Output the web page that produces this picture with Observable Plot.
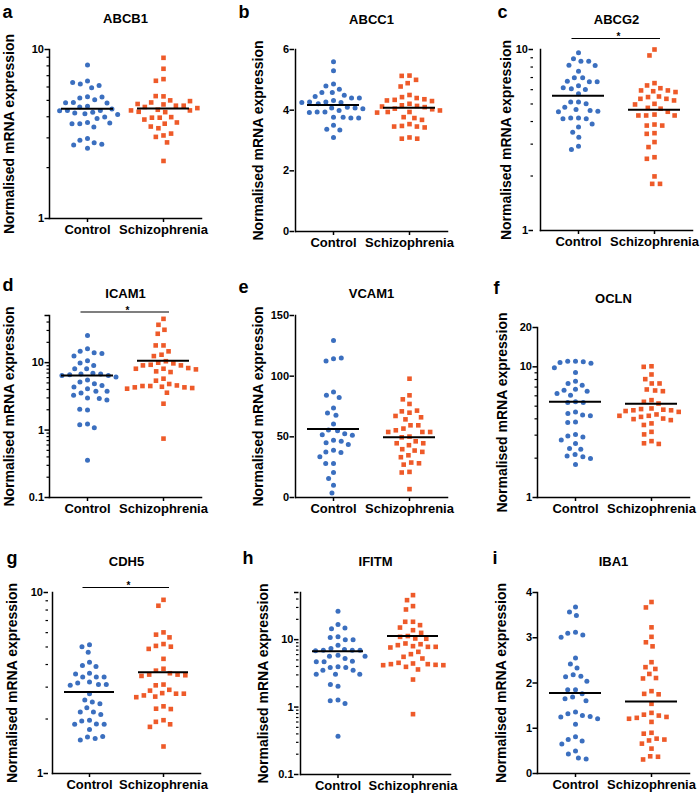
<!DOCTYPE html>
<html>
<head>
<meta charset="utf-8">
<script src="https://cdn.jsdelivr.net/npm/d3@7"></script>
<script src="https://cdn.jsdelivr.net/npm/@observablehq/plot@0.6"></script>
<style>
  html, body { margin: 0; padding: 0; background: #fff; }
  #root { position: relative; width: 700px; height: 794px; overflow: hidden; font-family: "Liberation Sans", Arial, sans-serif; }
  #root svg { position: absolute; }
</style>
</head>
<body>
<div id="root"></div>
<script>
// ---------- data ----------
const groups = ["Control", "Schizophrenia"];

const abcb1Control = [8.1, 6.5, 6.24, 5.94, 6.13, 6.38, 5.25, 5.16, 5.04, 5.23, 4.86, 4.82, 4.61, 4.57, 4.84, 4.26, 4.21, 4.36, 4.44, 4.36, 4.17, 4.34, 3.9, 3.98, 4.13, 3.7, 3.64, 3.48, 3.64, 3.67, 2.97, 2.9, 2.81, 2.75, 2.6, 2.72];
const abcb1Schizo = [8.93, 7.69, 6.68, 6.53, 5.28, 5.3, 5.0, 4.86, 4.73, 4.65, 4.57, 4.65, 4.76, 4.95, 4.4, 4.26, 4.28, 4.36, 3.95, 3.98, 4.36, 3.95, 3.7, 3.64, 3.42, 3.1, 3.18, 3.04, 2.82, 2.19, 4.5, 3.85, 3.5];
const abcb1Means = [4.46, 4.48];

const abcc1Control = [5.6, 5.3, 4.86, 4.8, 4.69, 4.58, 4.58, 4.49, 4.45, 4.4, 4.4, 4.32, 4.27, 4.27, 4.25, 4.25, 4.21, 4.1, 4.07, 4.07, 4.05, 3.99, 3.94, 3.94, 3.92, 3.77, 3.77, 3.74, 3.74, 3.5, 3.37, 3.35, 3.1];
const abcc1Schizo = [5.14, 5.13, 5.0, 4.89, 4.78, 4.5, 4.43, 4.4, 4.36, 4.34, 4.32, 4.3, 4.21, 4.16, 4.14, 4.12, 4.1, 4.05, 4.03, 3.99, 3.94, 3.94, 3.92, 3.77, 3.74, 3.68, 3.54, 3.48, 3.46, 3.46, 3.43, 3.1, 3.06, 3.06];
const abcc1Means = [4.17, 4.08];

const abcg2Control = [9.58, 8.88, 8.62, 8.62, 8.19, 8.15, 7.59, 6.98, 6.98, 6.68, 6.63, 6.63, 6.3, 6.14, 6.06, 6.01, 5.69, 5.12, 5.12, 5.01, 4.8, 4.66, 4.6, 4.56, 4.53, 4.19, 4.19, 4.14, 4.14, 3.88, 3.73, 3.49, 3.28, 2.92, 2.8];
const abcg2Schizo = [10.0, 9.27, 6.52, 6.33, 6.11, 5.94, 5.94, 5.88, 5.82, 5.5, 5.46, 5.34, 5.34, 5.23, 5.01, 4.97, 4.76, 4.71, 4.53, 4.37, 4.32, 4.32, 4.32, 3.85, 3.8, 3.8, 3.45, 3.42, 3.08, 2.89, 2.54, 2.49, 1.99, 1.81, 1.81];
const abcg2Means = [5.55, 4.64];

const icam1Control = [25.3, 16.1, 14.7, 14.0, 13.7, 12.5, 10.7, 9.85, 9.1, 8.12, 8.12, 6.93, 6.77, 6.77, 6.62, 6.47, 6.47, 6.11, 5.52, 5.16, 4.87, 4.59, 4.35, 4.11, 3.75, 3.75, 3.54, 3.27, 2.99, 2.95, 2.79, 1.99, 2.04, 1.23, 1.2, 1.08, 0.357];
const icam1Schizo = [44.6, 36.4, 30.7, 26.8, 18.0, 18.0, 14.7, 13.1, 12.5, 10.5, 9.97, 9.75, 9.3, 9.1, 9.1, 8.31, 8.12, 8.12, 7.94, 7.42, 7.25, 5.78, 5.4, 4.82, 4.59, 4.5, 4.5, 4.39, 4.3, 4.3, 4.2, 4.11, 3.58, 2.46, 0.747];
const icam1Means = [6.47, 10.7];

const vcam1Control = [129.4, 114.3, 112.4, 114.9, 86.9, 84.2, 82.5, 73.8, 69.7, 67.7, 60.6, 55.7, 55.1, 52.6, 51.8, 51.3, 47.2, 46.3, 45.2, 43.6, 38.9, 37.6, 37.0, 33.5, 28.0, 28.0, 20.6, 15.6, 10.1, 3.8];
const vcam1Schizo = [97.9, 84.2, 80.9, 77.1, 69.9, 71.0, 71.6, 66.1, 67.2, 64.4, 59.5, 59.5, 56.8, 55.4, 54.0, 54.0, 54.0, 50.2, 49.6, 46.3, 44.7, 44.7, 43.1, 38.7, 39.8, 37.6, 34.8, 33.2, 28.8, 28.2, 27.1, 21.1, 20.6, 6.9];
const vcam1Means = [56.5, 49.6];

const oclnControl = [11.05, 11.05, 10.92, 10.8, 10.67, 9.82, 9.05, 7.77, 7.46, 7.24, 6.75, 6.63, 6.51, 6.25, 6.07, 5.4, 5.33, 5.33, 4.52, 4.39, 4.27, 4.22, 3.79, 3.75, 3.04, 2.96, 2.91, 2.75, 2.59, 2.37, 2.34, 2.13, 2.08, 2.05, 1.99, 1.79];
const oclnSchizo = [10.1, 10.0, 8.74, 8.05, 7.46, 7.46, 6.71, 6.59, 6.51, 5.56, 5.4, 5.24, 4.8, 4.75, 4.7, 4.65, 4.65, 4.59, 4.52, 4.32, 4.22, 4.22, 4.14, 4.02, 3.98, 3.91, 3.69, 3.59, 3.18, 3.04, 2.7, 2.6, 2.57];
const oclnMeans = [5.4, 5.21];

const cdh5Control = [5.15, 5.02, 4.67, 4.12, 3.95, 3.9, 3.58, 3.41, 3.41, 3.41, 3.55, 3.2, 3.16, 3.1, 3.1, 3.07, 2.76, 2.55, 2.48, 2.43, 2.31, 2.19, 2.19, 2.12, 1.97, 1.95, 1.88, 1.87, 1.87, 1.75, 1.59, 1.56, 1.53, 1.6];
const cdh5Schizo = [9.11, 8.45, 6.02, 5.85, 5.65, 5.19, 5.07, 5.02, 4.88, 4.3, 3.79, 3.7, 3.58, 3.52, 3.52, 3.49, 3.46, 3.1, 3.07, 2.9, 2.87, 2.78, 2.76, 2.76, 2.7, 2.66, 2.64, 2.35, 2.28, 2.27, 1.97, 1.93, 1.87, 1.81, 1.41];
const cdh5Means = [2.82, 3.63];

const ifitmControl = [26.4, 16.8, 14.5, 14.9, 11.0, 10.8, 10.0, 10.0, 8.28, 7.39, 7.14, 6.98, 6.98, 6.98, 6.82, 5.88, 5.69, 5.69, 5.25, 4.8, 4.69, 4.69, 3.95, 3.86, 3.86, 3.53, 3.53, 3.07, 3.07, 3.07, 2.04, 2.16, 1.27, 1.24, 1.13, 0.37];
const ifitmSchizo = [45.7, 38.5, 31.4, 28.0, 18.4, 18.4, 16.4, 15.1, 13.8, 12.6, 11.3, 11.0, 10.4, 10.3, 8.77, 8.55, 8.28, 8.0, 7.82, 7.82, 7.65, 6.59, 6.09, 5.56, 5.25, 4.43, 4.53, 4.33, 4.33, 4.23, 4.18, 4.18, 3.95, 3.61, 2.56, 0.785];
const ifitmMeans = [6.74, 11.3];

const iba1Control = [3.68, 3.57, 3.49, 3.12, 3.1, 3.06, 3.01, 2.55, 2.42, 2.33, 2.18, 2.15, 2.14, 2.04, 1.85, 1.85, 1.76, 1.69, 1.65, 1.61, 1.36, 1.32, 1.28, 1.26, 1.25, 1.21, 1.09, 0.81, 0.75, 0.72, 0.65, 0.5, 0.43, 0.34, 0.32];
const iba1Schizo = [3.79, 3.67, 3.23, 3.02, 2.9, 2.81, 2.46, 2.35, 2.31, 2.2, 2.11, 2.1, 1.82, 1.76, 1.75, 1.54, 1.34, 1.3, 1.28, 1.25, 1.23, 1.21, 1.14, 0.9, 0.88, 0.77, 0.75, 0.73, 0.66, 0.55, 0.38, 0.37, 0.31];
const iba1Means = [1.78, 1.59];

// tick values
const ticks1to10 = [1, 10];
const minor1to10 = [2, 3, 4, 5, 6, 7, 8, 9];
const ticks01to50 = [0.1, 1, 10, 50];
const minor01to50 = [0.2, 0.3, 0.4, 0.5, 0.6, 0.7, 0.8, 0.9, 2, 3, 4, 5, 6, 7, 8, 9, 20, 30, 40];
const ticks1to20 = [1, 10, 20];
const ticksABCC1 = [0, 2, 4, 6];
const ticksVCAM1 = [0, 50, 100, 150];
const ticksIBA1 = [0, 1, 2, 3, 4];

const yLabel = "Normalised mRNA expression";
const blue = "#3b6fbf";
const orange = "#ee5a29";

// ---------- layout (pixel positions of each panel) ----------
const panels = [
  {letter: "a", title: "ABCB1", control: abcb1Control, schizo: abcb1Schizo, means: abcb1Means, type: "log", domain: [1, 10], ticks: ticks1to10, minor: minor1to10,
   col: 0, row: 0, axisX: 49, yTop: 49, yBot: 218, ctrl: 87, sch: 163, titleBase: 22, letterX: 2, letterBase: 17, labelX: 9, sig: null},
  {letter: "b", title: "ABCC1", control: abcc1Control, schizo: abcc1Schizo, means: abcc1Means, type: "linear", domain: [0, 6], ticks: ticksABCC1, minor: [],
   col: 1, row: 0, axisX: 294, yTop: 49, yBot: 231, ctrl: 333, sch: 409, titleBase: 23, letterX: 237, letterBase: 17, labelX: 257, sig: null},
  {letter: "c", title: "ABCG2", control: abcg2Control, schizo: abcg2Schizo, means: abcg2Means, type: "log", domain: [1, 10], ticks: ticks1to10, minor: minor1to10,
   col: 2, row: 0, axisX: 533, yTop: 49, yBot: 230, ctrl: 578, sch: 654, titleBase: 23, letterX: 490, letterBase: 17, labelX: 499, sig: 11},
  {letter: "d", title: "ICAM1", control: icam1Control, schizo: icam1Schizo, means: icam1Means, type: "log", domain: [0.1, 50], ticks: ticks01to50, minor: minor01to50,
   col: 0, row: 1, axisX: 49, yTop: 315, yBot: 497, ctrl: 87, sch: 163, titleBase: 297, letterX: 2, letterBase: 290, labelX: 9, sig: 3.5},
  {letter: "e", title: "VCAM1", control: vcam1Control, schizo: vcam1Schizo, means: vcam1Means, type: "linear", domain: [0, 150], ticks: ticksVCAM1, minor: [],
   col: 1, row: 1, axisX: 294, yTop: 315, yBot: 497, ctrl: 333, sch: 409, titleBase: 297, letterX: 237, letterBase: 292, labelX: 257, sig: null},
  {letter: "f", title: "OCLN", control: oclnControl, schizo: oclnSchizo, means: oclnMeans, type: "log", domain: [1, 20], ticks: ticks1to20, minor: minor1to10,
   col: 2, row: 1, axisX: 537, yTop: 327, yBot: 497, ctrl: 574, sch: 651, titleBase: 302, letterX: 493, letterBase: 293, labelX: 502, sig: null},
  {letter: "g", title: "CDH5", control: cdh5Control, schizo: cdh5Schizo, means: cdh5Means, type: "log", domain: [1, 10], ticks: ticks1to10, minor: minor1to10,
   col: 0, row: 2, axisX: 48, yTop: 592, yBot: 773, ctrl: 89, sch: 163, titleBase: 565, letterX: 2, letterBase: 563, labelX: 8, sig: 5},
  {letter: "h", title: "IFITM", control: ifitmControl, schizo: ifitmSchizo, means: ifitmMeans, type: "log", domain: [0.1, 50], ticks: ticks01to50, minor: minor01to50,
   col: 1, row: 2, axisX: 298, yTop: 592, yBot: 774, ctrl: 337, sch: 412, titleBase: 565, letterX: 240, letterBase: 563, labelX: 261, sig: null},
  {letter: "i", title: "IBA1", control: iba1Control, schizo: iba1Schizo, means: iba1Means, type: "linear", domain: [0, 4], ticks: ticksIBA1, minor: [],
   col: 2, row: 2, axisX: 537, yTop: 592, yBot: 773, ctrl: 574, sch: 651, titleBase: 565, letterX: 492, letterBase: 563, labelX: 501, sig: null}
];

const colLeft = [0, 235, 465];
const rowTop = [0, 265, 530];
const W = 235, H = 265;
const fmt = d => String(d);
const root = document.getElementById("root");

function makePanel(p) {
  const left = colLeft[p.col], top = rowTop[p.row];
  const step = p.sch - p.ctrl;
  const frameRight = p.sch + step / 2;
  const marginLeft = p.axisX - left;
  const marginTop = p.yTop - top;
  const marginBottom = top + H - p.yBot;
  const marginRight = left + W - frameRight;
  const insetLeft = Math.max(0, p.ctrl - step / 2 - p.axisX);

  const ctrlRows = p.control.map(v => ({group: groups[0], value: v}));
  const schRows = p.schizo.map(v => ({group: groups[1], value: v}));
  const meanRows = groups.map((g, i) => ({group: g, value: p.means[i]}));
  const yTopVal = p.domain[1];

  const marks = [
    Plot.axisY(p.minor, {dx: -insetLeft, tickSize: 2.5, tickFormat: () => "", strokeWidth: 1.2, label: null}),
    Plot.axisY(p.ticks, {dx: -insetLeft, tickSize: 4.5, tickPadding: 1, tickFormat: fmt, fontSize: 11, strokeWidth: 1.5, label: null}),
    Plot.axisFx({anchor: "bottom", tickSize: 4, tickPadding: 2, fontSize: 13, strokeWidth: 1.5, label: null}),
    Plot.frame({anchor: "left", facet: "super", strokeWidth: 1.5}),
    Plot.frame({anchor: "bottom", facet: "super", strokeWidth: 1.5}),
    Plot.dot(ctrlRows, Plot.dodgeX({anchor: "middle", y: "value", fx: "group", r: 2.5, padding: 2.8, fill: blue, symbol: "circle"})),
    Plot.dot(schRows, Plot.dodgeX({anchor: "middle", y: "value", fx: "group", r: 2.6, padding: 2.6, fill: orange, symbol: "square"})),
    Plot.ruleY(meanRows, {y: "value", fx: "group", stroke: "#000", strokeWidth: 2, insetLeft: 12, insetRight: 12}),
    // panel title
    Plot.text([p.title], {facet: "super", frameAnchor: "top", lineAnchor: "bottom", dy: p.titleBase - p.yTop, fontSize: 13}),
    // panel letter
    Plot.text([p.letter], {facet: "super", frameAnchor: "top-left", textAnchor: "start", lineAnchor: "bottom", dx: p.letterX - p.axisX, dy: p.letterBase - p.yTop, fontSize: 18}),
    // y axis label
    Plot.text([yLabel], {facet: "super", frameAnchor: "left", rotate: -90, textAnchor: "middle", lineAnchor: "middle", dx: p.labelX - p.axisX, fontSize: 14})
  ];

  if (p.sig != null) {
    const sigRows = groups.map(g => ({group: g, value: yTopVal}));
    marks.push(
      Plot.ruleY([sigRows[0]], {y: "value", fx: "group", dy: -p.sig, insetLeft: step / 2 - 6.5, strokeWidth: 1.2}),
      Plot.ruleY([sigRows[1]], {y: "value", fx: "group", dy: -p.sig, insetRight: step / 2 - 6, strokeWidth: 1.2}),
      Plot.text([sigRows[1]], {y: "value", fx: "group", frameAnchor: "left", text: () => "*", dy: -p.sig + 1.5, lineAnchor: "bottom", fontSize: 10})
    );
  }

  const svg = Plot.plot({
    width: W,
    height: H,
    marginLeft, marginRight, marginTop, marginBottom,
    style: {fontFamily: "'Liberation Sans', Arial, sans-serif", fontWeight: "bold", fontSize: "11px", color: "#000", background: "transparent", overflow: "visible"},
    fx: {domain: groups, padding: 0, insetLeft, insetRight: 0},
    y: {type: p.type, domain: p.domain},
    marks
  });
  svg.style.left = left + "px";
  svg.style.top = top + "px";
  root.appendChild(svg);
}

for (const p of panels) {
  try { makePanel(p); }
  catch (e) {
    const d = document.createElement("div");
    d.style.cssText = "position:absolute;left:" + colLeft[p.col] + "px;top:" + rowTop[p.row] + "px;color:red;font:10px monospace;width:230px;";
    d.textContent = p.letter + ": " + e.message;
    root.appendChild(d);
  }
}
</script>
</body>
</html>
